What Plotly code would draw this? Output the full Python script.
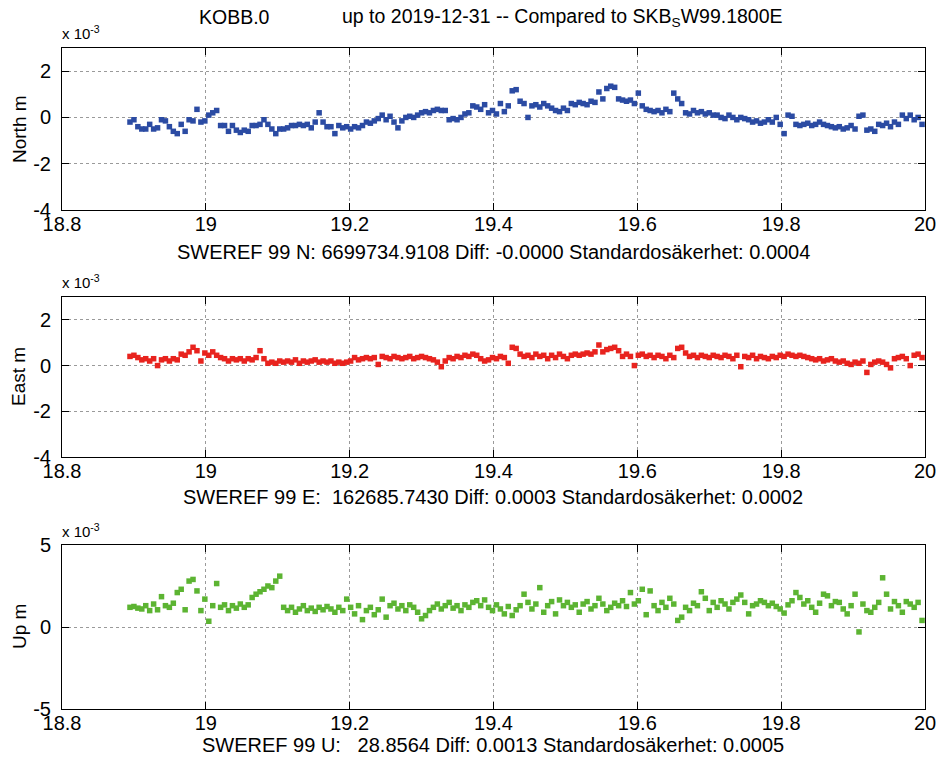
import pandas as pd
import plotly.graph_objects as go

# ---------------- data ----------------
start_date = "2018-11-23"
n_epochs = 202  # 2-day sampled epochs

north_mm = [
    -0.2, -0.1, -0.4, -0.5, -0.5, -0.3, -0.5, -0.45, -0.1, -0.15,
    -0.4, -0.6, -0.7, -0.3, -0.6, -0.1, -0.15, 0.35, -0.2, -0.15,
    0.1, 0.2, 0.3, -0.35, -0.35, -0.6, -0.35, -0.55, -0.65, -0.55,
    -0.6, -0.35, -0.35, -0.3, -0.1, -0.3, -0.5, -0.7, -0.5, -0.5,
    -0.45, -0.35, -0.35, -0.3, -0.35, -0.3, -0.45, -0.2, 0.2, -0.2,
    -0.4, -0.4, -0.7, -0.35, -0.45, -0.4, -0.5, -0.4, -0.45, -0.35,
    -0.2, -0.25, -0.15, -0.05, 0.1, -0.1, 0.05, -0.2, -0.45, -0.15,
    0.0, 0.05, 0.0, 0.1, 0.2, 0.25, 0.2, 0.3, 0.35, 0.3,
    0.3, -0.1, -0.05, -0.1, 0.0, 0.15, 0.2, 0.5, 0.45, 0.35,
    0.55, 0.2, 0.3, 0.15, 0.6, 0.25, 0.5, 1.15, 1.2, 0.7,
    0.6, 0.0, 0.5, 0.55, 0.45, 0.6, 0.5, 0.4, 0.3, 0.25,
    0.4, 0.3, 0.6, 0.55, 0.65, 0.6, 0.55, 0.7, 0.65, 1.1,
    0.8, 1.25, 1.35, 1.3, 0.8, 0.75, 0.7, 0.75, 0.6, 1.05,
    0.5, 0.35, 0.3, 0.25, 0.3, 0.2, 0.35, 0.25, 1.05, 0.8,
    0.6, 0.2, 0.15, 0.3, 0.2, 0.25, 0.15, 0.2, 0.1, 0.1,
    0.0, -0.05, 0.1, 0.0, -0.1, 0.0, -0.05, -0.1, -0.2, -0.15,
    -0.25, -0.2, -0.1, -0.2, 0.0, -0.3, -0.7, 0.1, 0.05, -0.3,
    -0.35, -0.3, -0.25, -0.35, -0.3, -0.2, -0.3, -0.35, -0.4, -0.45,
    -0.4, -0.5, -0.45, -0.35, -0.5, 0.05, 0.1, -0.55, -0.5, -0.6,
    -0.3, -0.35, -0.25, -0.4, -0.2, -0.3, 0.1, -0.05, 0.1, -0.1,
    0.0, -0.3,
]

east_mm = [
    0.4, 0.45, 0.35, 0.25, 0.3, 0.2, 0.3, 0.0, 0.25, 0.3,
    0.2, 0.3, 0.25, 0.5, 0.45, 0.6, 0.8, 0.65, 0.2, 0.55,
    0.45, 0.6, 0.45, 0.35, 0.3, 0.2, 0.3, 0.25, 0.3, 0.2,
    0.3, 0.25, 0.35, 0.65, 0.3, 0.1, 0.15, 0.1, 0.2, 0.15,
    0.2, 0.15, 0.25, 0.1, 0.2, 0.15, 0.2, 0.25, 0.15, 0.2,
    0.15, 0.2, 0.1, 0.15, 0.1, 0.15, 0.2, 0.35, 0.25, 0.3,
    0.35, 0.3, 0.35, 0.05, 0.4, 0.35, 0.3, 0.4, 0.35, 0.3,
    0.35, 0.4, 0.3, 0.35, 0.4, 0.35, 0.3, 0.25, 0.15, -0.05,
    0.2, 0.35, 0.3, 0.4, 0.35, 0.45, 0.4, 0.5, 0.45, 0.3,
    0.2, 0.25, 0.35, 0.3, 0.4, 0.35, 0.1, 0.8, 0.75, 0.5,
    0.4, 0.45, 0.35, 0.5, 0.4, 0.45, 0.3, 0.45, 0.35, 0.5,
    0.4, 0.3, 0.45, 0.5, 0.45, 0.5, 0.55, 0.5, 0.6, 0.9,
    0.6, 0.7, 0.75, 0.8, 0.65, 0.4, 0.5, 0.4, 0.0, 0.45,
    0.5, 0.4, 0.45, 0.35, 0.45, 0.4, 0.3, 0.45, 0.35, 0.75,
    0.8, 0.55, 0.4, 0.45, 0.35, 0.45, 0.4, 0.35, 0.45, 0.4,
    0.35, 0.45, 0.4, 0.3, 0.45, -0.05, 0.4, 0.35, 0.45, 0.3,
    0.4, 0.35, 0.3, 0.4, 0.35, 0.45, 0.4, 0.5, 0.45, 0.4,
    0.45, 0.4, 0.35, 0.3, 0.25, 0.3, 0.2, 0.25, 0.3, 0.2,
    0.15, 0.2, 0.1, 0.05, 0.15, 0.1, 0.2, -0.3, 0.05, 0.15,
    0.2, 0.15, 0.05, -0.1, 0.3, 0.35, 0.4, 0.3, 0.0, 0.45,
    0.5, 0.35,
]

up_mm = [
    1.2, 1.25, 1.15, 1.1, 1.3, 1.0, 1.4, 1.05, 1.85, 1.3,
    1.2, 1.45, 2.1, 2.3, 1.05, 2.8, 2.9, 2.2, 1.0, 1.7,
    0.35, 1.3, 2.65, 1.2, 1.35, 1.0, 1.3, 1.15, 1.4, 1.2,
    1.35, 1.8, 2.0, 2.15, 2.3, 2.5, 2.4, 2.8, 3.1, 1.2,
    1.0, 1.2, 0.9, 1.1, 1.3, 1.0, 1.15, 0.95, 1.2, 1.05,
    1.25, 1.1, 0.9, 1.2, 1.0, 1.7, 1.2, 0.8, 1.3, 0.45,
    1.0, 1.2, 0.75, 1.05, 1.7, 0.6, 1.3, 1.45, 1.1, 1.3,
    1.0, 1.35, 1.2, 0.9, 0.5, 0.7, 1.0, 1.2, 1.4, 1.1,
    1.3, 1.5, 1.15, 1.3, 1.0, 1.35, 1.2, 1.5, 1.6, 1.3,
    1.65, 1.2, 1.0, 1.35, 1.1, 0.8, 1.25, 0.7, 1.05, 1.3,
    2.0, 1.5, 1.1, 1.4, 2.4, 0.9, 1.3, 1.55, 0.8, 1.65,
    1.3, 1.5, 1.2, 1.35, 0.9, 1.4, 1.55, 1.1, 1.3, 1.75,
    1.4, 1.0, 1.2, 1.45, 1.3, 1.6, 1.25, 2.1, 1.4, 1.6,
    2.3, 0.75, 2.2, 1.3, 1.0, 1.5, 1.2, 1.75, 1.4, 0.4,
    0.6, 1.2, 1.0, 1.45, 1.3, 2.15, 1.75, 1.0, 1.5, 1.2,
    1.6, 1.4, 1.1, 1.5, 1.7, 1.95, 1.5, 0.8, 1.3, 1.4,
    1.6, 1.5, 1.3, 1.45, 1.25, 1.1, 0.85, 1.35, 1.6, 2.1,
    1.8, 1.4, 1.6, 1.2, 0.9, 1.45, 2.0, 1.9, 1.3, 1.55,
    1.5, 1.1, 0.8, 1.3, 2.0, -0.3, 1.4, 1.0, 0.9, 1.2,
    1.5, 3.0, 2.0, 1.1, 1.55, 1.3, 0.9, 1.55, 1.4, 1.2,
    1.5, 0.4,
]

x_tick_vals = [18.8, 19.0, 19.2, 19.4, 19.6, 19.8, 20.0]
x_tick_text = ["18.8", "19", "19.2", "19.4", "19.6", "19.8", "20"]
ne_tick_vals = [-4, -2, 0, 2]
ne_tick_text = ["-4", "-2", "0", "2"]
u_tick_vals = [-5, 0, 5]
u_tick_text = ["-5", "0", "5"]

title_station = "KOBB.0"
title_rest = "up to 2019-12-31 -- Compared to SKB<sub>S</sub>W99.1800E"
sub_n = "SWEREF 99 N: 6699734.9108 Diff: -0.0000 Standardosäkerhet: 0.0004"
sub_e = "SWEREF 99 E:\u00a0 162685.7430 Diff: 0.0003 Standardosäkerhet: 0.0002"
sub_u = "SWEREF 99 U:\u00a0\u00a0 28.8564 Diff: 0.0013 Standardosäkerhet: 0.0005"

# ---------------- epochs (decimal year - 2000) ----------------
dates = pd.date_range(start_date, periods=n_epochs, freq="2D")
epoch = [(d.year - 2000) + (d.dayofyear - 0.5) / (366 if d.is_leap_year else 365) for d in dates]

W, H = 939, 760
FONT = "Liberation Sans, Arial, Helvetica, sans-serif"


def px_x(p):
    return p / W


def px_y(p):
    return 1 - p / H


panels = [
    (north_mm, "#2B4BA3", "North m", 48, 210, [-4, 3], ne_tick_vals, ne_tick_text, sub_n, 252),
    (east_mm, "#E8231E", "East m", 297, 457, [-4, 3], ne_tick_vals, ne_tick_text, sub_e, 497),
    (up_mm, "#5CB432", "Up m", 545, 709, [-5, 5], u_tick_vals, u_tick_text, sub_u, 745),
]

fig = go.Figure()
annotations = []
layout = dict(
    width=W, height=H,
    margin=dict(l=0, r=0, t=0, b=0, autoexpand=False),
    paper_bgcolor="white", plot_bgcolor="white",
    showlegend=False,
    font=dict(family=FONT, size=20, color="black"),
)

x_left, x_right = 62, 925
for k, (vals, color, ylab, ytop, ybot, yr, tv, tt, sub, sub_y) in enumerate(panels):
    idx = "" if k == 0 else str(k + 1)
    fig.add_trace(go.Scatter(
        x=epoch, y=vals, mode="markers",
        marker=dict(symbol="square", size=5.5, color=color, line=dict(width=0)),
        xaxis="x" + idx, yaxis="y" + idx,
    ))
    common = dict(
        showline=True, linecolor="black", linewidth=1, mirror="ticks",
        ticks="inside", ticklen=7, tickcolor="black", tickwidth=1,
        showgrid=True, gridcolor="#9a9a9a", griddash="dot", gridwidth=1,
        zeroline=False, automargin=False, ticklabeloverflow="allow",
        tickfont=dict(family=FONT, size=20, color="black"),
    )
    layout["xaxis" + idx] = dict(
        common, domain=[px_x(x_left), px_x(x_right)], range=[18.8, 20.0],
        tickvals=x_tick_vals, ticktext=x_tick_text,
        anchor="y" + idx, ticklabelstandoff=-4,
    )
    layout["yaxis" + idx] = dict(
        common, domain=[px_y(ybot), px_y(ytop)], range=yr,
        tickvals=tv, ticktext=tt, anchor="x" + idx, ticklabelstandoff=6,
    )
    annotations.append(dict(
        text=ylab, x=px_x(19), y=px_y((ytop + ybot) / 2), xref="paper", yref="paper",
        textangle=-90, showarrow=False, xanchor="center", yanchor="middle",
        font=dict(family=FONT, size=19, color="black"),
    ))
    annotations.append(dict(
        text="x 10<sup>-3</sup>", x=px_x(60), y=px_y(ytop - 15), xref="paper", yref="paper",
        showarrow=False, xanchor="left", yanchor="middle",
        font=dict(family=FONT, size=15, color="black"),
    ))
    annotations.append(dict(
        text=sub, x=px_x(493), y=px_y(sub_y), xref="paper", yref="paper",
        showarrow=False, xanchor="center", yanchor="middle",
        font=dict(family=FONT, size=20, color="black"),
    ))

annotations.append(dict(
    text=title_station, x=px_x(197), y=px_y(17), xref="paper", yref="paper",
    showarrow=False, xanchor="left", yanchor="middle",
    font=dict(family=FONT, size=19.5, color="black"),
))
annotations.append(dict(
    text=title_rest, x=px_x(340), y=px_y(17), xref="paper", yref="paper",
    showarrow=False, xanchor="left", yanchor="middle",
    font=dict(family=FONT, size=19.5, color="black"),
))
layout["annotations"] = annotations
fig.update_layout(**layout)
fig.write_html(
    "out.html",
    config={"displayModeBar": False},
    post_script="document.body.style.margin='0';document.body.style.overflow='hidden';",
)
